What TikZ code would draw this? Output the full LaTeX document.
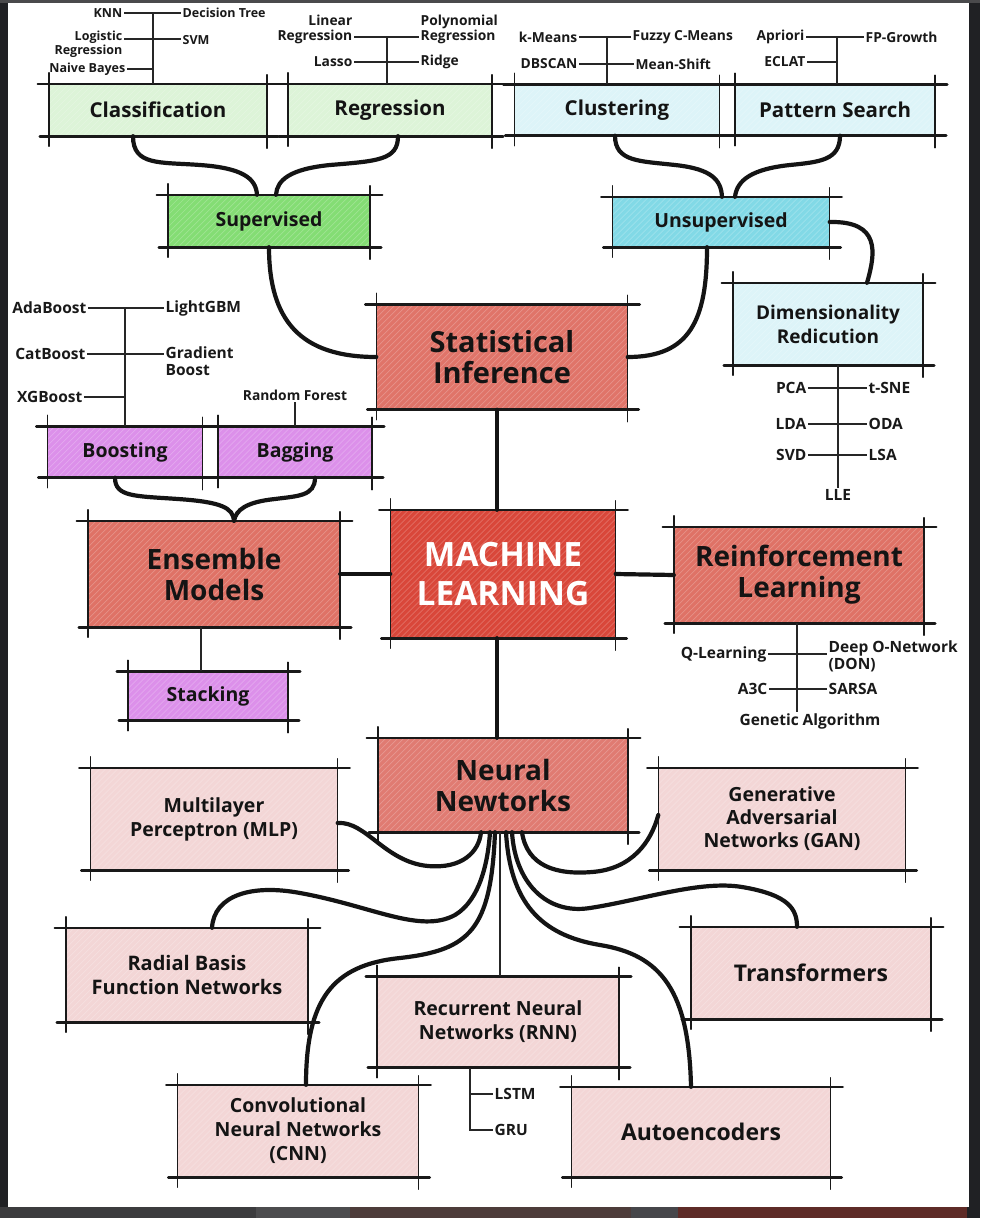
\documentclass[tikz,border=0pt]{standalone}
\usepackage{fontspec}
\setmainfont{Open Sans}
\usetikzlibrary{calc}

\definecolor{framedark}{HTML}{202124}
\definecolor{frametop}{HTML}{4A4A4C}
\definecolor{stripA}{HTML}{3C3C3E}
\definecolor{stripB}{HTML}{4C4C4E}
\definecolor{stripC}{HTML}{4D3C3A}
\definecolor{stripD}{HTML}{46464A}
\definecolor{stripE}{HTML}{5E2B27}
\definecolor{lgreen}{HTML}{DDF4D8}
\definecolor{sgreen}{HTML}{84DD74}
\definecolor{lcyan}{HTML}{DDF4F8}
\definecolor{scyan}{HTML}{82D9E6}
\definecolor{salmon}{HTML}{E07469}
\definecolor{mlred}{HTML}{D9473A}
\definecolor{boxred}{HTML}{DF7266}
\definecolor{nnred}{HTML}{E07B72}
\definecolor{violet}{HTML}{DC90EA}
\definecolor{pale}{HTML}{F3D6D6}

\tikzset{
  sk/.style={draw=none, inner sep=2pt, align=center, font=\bfseries, text=black!92},
  hatch/.style={path picture={
      \foreach \k in {-140,-134,...,270}{
        \draw[white, opacity=0.22, line width=0.7pt]
          ([xshift=\k pt]path picture bounding box.south west) -- ++(140pt,140pt);
      }}},
  edgeH/.style={line width=2.6pt, line cap=round, black!90},
  edgeV/.style={line width=1.5pt, line cap=round, black!90},
  brush/.style={line width=4.2pt, line cap=round, black!92},
  twig/.style={line width=1.2pt, black!85},
  lblS/.style={font=\bfseries\fontsize{12.5}{14}\selectfont, inner sep=1.5pt, text=black!90},
  lblM/.style={font=\bfseries\fontsize{13.8}{15}\selectfont, inner sep=1.5pt, text=black!90},
  lblL/.style={font=\bfseries\fontsize{15.5}{17}\selectfont, inner sep=1.5pt, text=black!90},
}

% sketch box: name, cx, cy, width, height, style, text
\newcommand\skbox[7]{%
  \node[sk, minimum width=#4pt, minimum height=#5pt, hatch, #6] (#1) at (#2,#3) {#7};
  \draw[edgeH] ([xshift=-11pt]#1.north west) -- ([xshift=12pt]#1.north east);
  \draw[edgeH] ([xshift=-9pt]#1.south west) -- ([xshift=11pt]#1.south east);
  \draw[edgeV] ([yshift=11pt]#1.north west) -- ([yshift=-10pt]#1.south west);
  \draw[edgeV] ([yshift=9pt]#1.north east) -- ([yshift=-12pt]#1.south east);
}

\begin{document}
\begin{tikzpicture}[x=1pt,y=-1pt]
\useasboundingbox (0,0) rectangle (980,1218);
% page frame
\fill[framedark] (0,0) rectangle (980,1218);
\fill[frametop] (0,0) rectangle (980,3);
\fill[white] (8,3) rectangle (969,1207);
% strip of the next page below
\fill[stripA] (0,1207) rectangle (256,1218);
\fill[stripB] (256,1207) rectangle (350,1218);
\fill[stripC] (350,1207) rectangle (631,1218);
\fill[stripD] (631,1207) rectangle (678,1218);
\fill[stripE] (678,1207) rectangle (967,1218);

% ---------- boxes ----------
\skbox{cls}{158}{110}{218}{52}{fill=lgreen, font=\bfseries\fontsize{20.5}{22}\selectfont}{Classification}
\skbox{reg}{390}{110}{204}{52}{fill=lgreen, font=\bfseries\fontsize{20.5}{22}\selectfont}{Regression}
\skbox{clu}{617}{110}{205}{51}{fill=lcyan, font=\bfseries\fontsize{20.5}{22}\selectfont}{Clustering}
\skbox{pat}{835}{110}{200}{51}{fill=lcyan, font=\bfseries\fontsize{20.5}{22}\selectfont}{Pattern Search}
\skbox{sup}{269}{221}{202}{52}{fill=sgreen, font=\bfseries\fontsize{19.5}{21}\selectfont}{Supervised}
\skbox{uns}{721}{222}{217}{50}{fill=scyan, font=\bfseries\fontsize{19.5}{21}\selectfont}{Unsupervised}
\skbox{stat}{502}{357}{251}{105}{fill=salmon, font=\bfseries\fontsize{29}{31}\selectfont}{Statistical\\Inference}
\skbox{dr}{828}{324}{190}{82}{fill=lcyan, font=\bfseries\fontsize{19}{24}\selectfont}{Dimensionality\\Redicution}
\skbox{boost}{125}{452}{155}{51}{fill=violet, font=\bfseries\fontsize{19.5}{21}\selectfont}{Boosting}
\skbox{bag}{295}{452}{154}{51}{fill=violet, font=\bfseries\fontsize{19.5}{21}\selectfont}{Bagging}
\skbox{ens}{214}{574}{252}{106}{fill=boxred, font=\bfseries\fontsize{28}{31}\selectfont}{Ensemble\\Models}
\skbox{ml}{503}{574}{225}{128}{fill=mlred, text=white, font=\bfseries\fontsize{33.5}{39}\selectfont}{MACHINE\\LEARNING}
\skbox{rl}{799}{575}{250}{96}{fill=boxred, font=\bfseries\fontsize{28}{31}\selectfont}{Reinforcement\\Learning}
\skbox{stack}{208}{696}{160}{49}{fill=violet, font=\bfseries\fontsize{19.5}{21}\selectfont}{Stacking}
\skbox{nn}{503}{785}{250}{94}{fill=nnred, font=\bfseries\fontsize{28}{31}\selectfont}{Neural\\Newtorks}
\skbox{mlp}{214}{819}{247}{102}{fill=pale, font=\bfseries\fontsize{19.5}{24}\selectfont}{Multilayer\\Perceptron (MLP)}
\skbox{gan}{782}{819}{247}{102}{fill=pale, font=\bfseries\fontsize{19.5}{23}\selectfont}{Generative\\Adversarial\\Networks (GAN)}
\skbox{rbf}{187}{975}{242}{94}{fill=pale, font=\bfseries\fontsize{20}{24}\selectfont}{Radial Basis\\Function Networks}
\skbox{tr}{811}{973}{240}{92}{fill=pale, font=\bfseries\fontsize{23}{26}\selectfont}{Transformers}
\skbox{rnn}{498}{1022}{242}{91}{fill=pale, font=\bfseries\fontsize{19.5}{24}\selectfont}{Recurrent Neural\\Networks (RNN)}
\skbox{cnn}{298}{1131}{241}{92}{fill=pale, font=\bfseries\fontsize{19.5}{24}\selectfont}{Convolutional\\Neural Networks\\(CNN)}
\skbox{ae}{701}{1132}{259}{90}{fill=pale, font=\bfseries\fontsize{23}{26}\selectfont}{Autoencoders}

% ---------- brush connectors ----------
\draw[brush] (cls.south -| 133,0) .. controls (133,166) and (160,162) .. (200,165)
  .. controls (242,168) and (256,178) .. (sup.north -| 257,0);
\draw[brush] (reg.south -| 398,0) .. controls (398,160) and (378,161) .. (330,165)
  .. controls (290,169) and (277,180) .. (sup.north -| 276,0);
\draw[brush] (clu.south -| 615,0) .. controls (615,162) and (640,161) .. (675,165)
  .. controls (712,169) and (721,180) .. (uns.north -| 722,0);
\draw[brush] (pat.south -| 840,0) .. controls (840,160) and (820,162) .. (790,165)
  .. controls (752,169) and (737,180) .. (uns.north -| 735,0);
\draw[brush] (sup.south) .. controls (269,320) and (300,357) .. (stat.west);
\draw[brush] (uns.south -| 707,0) .. controls (707,320) and (690,357) .. (stat.east);
\draw[brush] (uns.east) .. controls (880,221) and (876,252) .. (dr.north -| 867,0);
\draw[brush] (stat.south -| 497,0) -- (ml.north -| 497,0);
\draw[brush] (boost.south -| 115,0) .. controls (115,497) and (135,496) .. (178,499)
  .. controls (222,502) and (233,508) .. (ens.north -| 234,0);
\draw[brush] (bag.south -| 315,0) .. controls (315,496) and (298,496) .. (275,499)
  .. controls (246,502) and (236,510) .. (ens.north -| 234,0);
\draw[brush] (ens.east) -- (ml.west);
\draw[brush] (ml.east) -- (rl.west);
\draw[twig, line width=1.6pt] (ens.south -| 201,0) -- (stack.north -| 201,0);
\draw[brush] (ml.south -| 497,0) -- (nn.north -| 497,0);

% neural network family
\draw[brush] (mlp.east |- 0,823) .. controls (366,821) and (385,862) .. (428,866)
  .. controls (462,869) and (479,852) .. (nn.south -| 481,0);
\draw[brush] (nn.south -| 522,0) .. controls (527,866) and (556,875) .. (592,872)
  .. controls (632,869) and (651,842) .. (gan.west |- 0,815);
\draw[brush] (rbf.north -| 212,0) .. controls (214,895) and (252,884) .. (300,893)
  .. controls (372,906) and (420,934) .. (455,915)
  .. controls (480,900) and (488,862) .. (nn.south -| 490,0);
\draw[brush] (nn.south -| 512,0) .. controls (515,882) and (546,915) .. (590,908)
  .. controls (642,900) and (700,880) .. (742,887)
  .. controls (790,895) and (797,910) .. (tr.north -| 797,0);
\draw[brush] (cnn.north -| 306,0) .. controls (306,1000) and (332,965) .. (400,958)
  .. controls (470,950) and (491,930) .. (nn.south -| 495,0);
\draw[twig, line width=1.6pt] (nn.south -| 500,0) -- (rnn.north -| 500,0);
\draw[brush] (nn.south -| 506,0) .. controls (510,902) and (540,935) .. (600,945)
  .. controls (662,955) and (689,992) .. (ae.north -| 691,0);

% ---------- classification methods ----------
\node[lblS, anchor=east] (knn) at (124,13) {KNN};
\node[lblS, anchor=west] (dtree) at (181,13) {Decision Tree};
\node[lblS, anchor=east, align=right] (logreg) at (124,44) {Logistic\\Regression};
\node[lblS, anchor=west] (svm) at (181,40) {SVM};
\node[lblS, anchor=east] (nbayes) at (127,69) {Naive Bayes};
\coordinate (c1) at (153,13);
\coordinate (c2) at (153,39);
\coordinate (c3) at (153,69);
\draw[twig] (c1) -- (c1 |- cls.north);
\draw[twig] (knn.east) -- (dtree.west);
\draw[twig] (c2 -| logreg.east) -- (c2 -| svm.west);
\draw[twig] (nbayes.east) -- (c3);

% ---------- regression methods ----------
\node[lblM, anchor=east, align=right] (linreg) at (354,29) {Linear\\Regression};
\node[lblM, anchor=west, align=left] (polyreg) at (419,29) {Polynomial\\Regression};
\node[lblM, anchor=east] (lasso) at (354,62) {Lasso};
\node[lblM, anchor=west] (ridge) at (419,62) {Ridge};
\coordinate (r1) at (387,37);
\draw[twig] (r1) -- (r1 |- reg.north);
\draw[twig] (r1 -| linreg.east) -- (r1 -| polyreg.west);
\draw[twig] (lasso.east) -- (ridge.west);

% ---------- clustering methods ----------
\node[lblM, anchor=east] (kmeans) at (579,37) {k-Means};
\node[lblM, anchor=west] (fuzzy) at (631,37) {Fuzzy C-Means};
\node[lblM, anchor=east] (dbscan) at (579,64) {DBSCAN};
\node[lblM, anchor=west] (mshift) at (634,64) {Mean-Shift};
\coordinate (k1) at (607,37);
\draw[twig] (k1) -- (k1 |- clu.north);
\draw[twig] (kmeans.east) -- (fuzzy.west);
\draw[twig] (dbscan.east) -- (mshift.west);

% ---------- pattern search methods ----------
\node[lblM, anchor=east] (apriori) at (806,37) {Apriori};
\node[lblM, anchor=west] (fpg) at (864,37) {FP-Growth};
\node[lblM, anchor=east] (eclat) at (807,62) {ECLAT};
\coordinate (p1) at (837,37);
\coordinate (p2) at (837,62);
\draw[twig] (p1) -- (p1 |- pat.north);
\draw[twig] (apriori.east) -- (fpg.west);
\draw[twig] (eclat.east) -- (p2);

% ---------- dimensionality reduction methods ----------
\node[lblL, anchor=east] (pca) at (808,388) {PCA};
\node[lblL, anchor=west] (tsne) at (867,388) {t-SNE};
\node[lblL, anchor=east] (lda) at (808,424) {LDA};
\node[lblL, anchor=west] (oda) at (867,424) {ODA};
\node[lblL, anchor=east] (svd) at (808,455) {SVD};
\node[lblL, anchor=west] (lsa) at (867,455) {LSA};
\node[lblL] (lle) at (838,495) {LLE};
\draw[twig] (dr.south -| lle.north) -- (lle.north);
\draw[twig] (pca.east) -- (tsne.west);
\draw[twig] (lda.east) -- (oda.west);
\draw[twig] (svd.east) -- (lsa.west);

% ---------- boosting and bagging methods ----------
\node[lblL, anchor=east] (ada) at (88,308) {AdaBoost};
\node[lblL, anchor=west] (lgbm) at (164,308) {LightGBM};
\node[lblL, anchor=east] (cat) at (87,354) {CatBoost};
\node[lblL, anchor=west, align=left] (gboost) at (164,361) {Gradient\\Boost};
\node[lblL, anchor=east] (xgb) at (84,397) {XGBoost};
\coordinate (b1) at (125,308);
\coordinate (b2) at (125,354);
\coordinate (b3) at (125,397);
\draw[twig] (b1) -- (b1 |- boost.north);
\draw[twig] (ada.east) -- (lgbm.west);
\draw[twig] (cat.east) -- (b2 -| gboost.west);
\draw[twig] (xgb.east) -- (b3);
\node[lblM] (rforest) at (295,395) {Random Forest};
\draw[twig] (rforest.south) -- (rforest.south |- bag.north);

% ---------- reinforcement learning methods ----------
\node[lblL, anchor=east] (qlearn) at (768,654) {Q-Learning};
\node[lblL, anchor=west, align=left] (dqn) at (827,656) {Deep O-Network\\(DON)};
\node[lblL, anchor=east] (a3c) at (769,689) {A3C};
\node[lblL, anchor=west] (sarsa) at (827,689) {SARSA};
\node[lblL] (genetic) at (810,721) {Genetic Algorithm};
\coordinate (q1) at (797,654);
\draw[twig] (rl.south -| q1) -- (genetic.north -| q1);
\draw[twig] (qlearn.east) -- (q1 -| dqn.west);
\draw[twig] (a3c.east) -- (sarsa.west);

% ---------- recurrent variants ----------
\node[lblL, anchor=west] (lstm) at (493,1094) {LSTM};
\node[lblL, anchor=west] (gru) at (493,1130) {GRU};
\coordinate (g0) at (470,1130);
\draw[twig] (rnn.south -| g0) -- (g0) -- (gru.west);
\draw[twig] (lstm.west -| g0) -- (lstm.west);
\end{tikzpicture}
\end{document}
